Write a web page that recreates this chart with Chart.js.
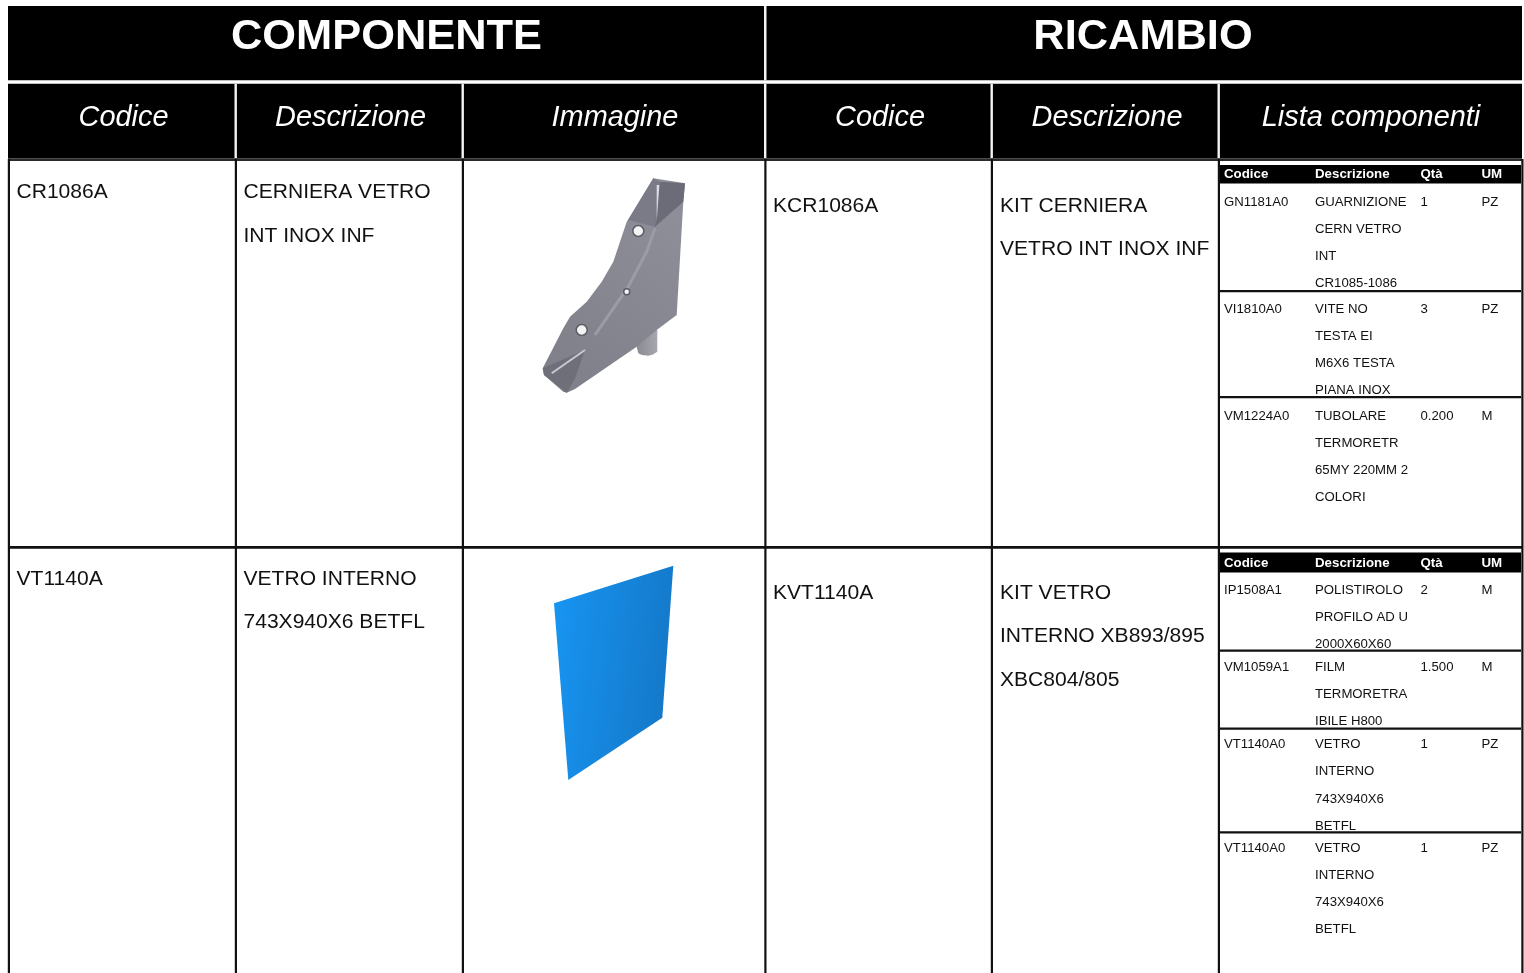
<!DOCTYPE html>
<html lang="it">
<head>
<meta charset="utf-8">
<title>Componente / Ricambio</title>
<script src="https://cdn.jsdelivr.net/npm/chart.js@4"></script>
<style>
  html, body { margin: 0; padding: 0; background: #fff; overflow: hidden; }
  canvas { display: block; }
</style>
</head>
<body>
<canvas id="tabella" width="1524" height="973"></canvas>
<script>
// Testi della tabella
const titles = ['COMPONENTE', 'RICAMBIO'];
const columns = ['Codice', 'Descrizione', 'Immagine', 'Codice', 'Descrizione', 'Lista componenti'];
const partColumns = ['Codice', 'Descrizione', 'Qtà', 'UM'];

const componentCodes = ['CR1086A', 'VT1140A'];
const componentNames = [['CERNIERA VETRO', 'INT INOX INF'], ['VETRO INTERNO', '743X940X6 BETFL']];
const spareCodes = ['KCR1086A', 'KVT1140A'];
const spareNames = [['KIT CERNIERA', 'VETRO INT INOX INF'], ['KIT VETRO', 'INTERNO XB893/895', 'XBC804/805']];

const partCodes = [['GN1181A0', 'VI1810A0', 'VM1224A0'], ['IP1508A1', 'VM1059A1', 'VT1140A0', 'VT1140A0']];
const partNames = [
  [['GUARNIZIONE', 'CERN VETRO', 'INT', 'CR1085-1086'], ['VITE NO', 'TESTA EI', 'M6X6 TESTA', 'PIANA INOX'], ['TUBOLARE', 'TERMORETR', '65MY 220MM 2', 'COLORI']],
  [['POLISTIROLO', 'PROFILO AD U', '2000X60X60'], ['FILM', 'TERMORETRA', 'IBILE H800'], ['VETRO', 'INTERNO', '743X940X6', 'BETFL'], ['VETRO', 'INTERNO', '743X940X6', 'BETFL']]
];
const partQty = [['1', '3', '0.200'], ['2', '1.500', '1', '1']];
const partUnits = [['PZ', 'PZ', 'M'], ['M', 'M', 'PZ', 'PZ']];

// Sagome delle due immagini, in unità degli assi
const hingePeg = [[637, 330], [657.3, 330], [657.3, 351.7], [653, 354.5], [648.3, 355.7], [642, 355], [638.3, 353.3], [636.7, 346.7], [637, 330]];
const hingeBody = [[653.3, 178.3], [685, 183.3], [683.3, 201.7], [676.7, 315], [656.7, 330], [636.7, 346.7], [575, 389], [566.7, 392.7], [563.3, 391.7], [544, 375], [542.7, 368.3], [563.3, 328.3], [570, 316.7], [586.7, 301.7], [601.7, 281.7], [613.3, 261.7], [621.7, 236.7], [626.7, 221.7], [653.3, 178.3]];
const hingeFaceLeft = [[653.3, 178.3], [660, 181.7], [655, 226.7], [628.3, 220], [653.3, 178.3]];
const hingeFaceRight = [[660, 181.7], [685, 183.3], [683.3, 201.7], [655, 226.7], [660, 181.7]];
const hingeStreak = [[656.7, 185], [659.3, 185], [656.7, 221.7], [656.7, 185]];
const hingeBand = [[655, 228.3], [646.7, 251.7], [628.3, 286.7], [595, 335]];
const hingeFoot = [[542.7, 368.3], [585, 350], [575, 378.3], [566.7, 392.7], [544, 375], [542.7, 368.3]];
const hingeLight = [[551.7, 373.3], [585, 350]];
const hingeHoles = [[638.3, 231], [581.7, 330], [626.7, 291.7]];
const hingeHoleSizes = [5.5, 5.5, 3];
const glass = [[554, 603.3], [673.3, 565.7], [662.3, 717.7], [568.3, 780], [554, 603.3]];

// Griglia
const colEdges = [8, 235, 462, 764.5, 991, 1218, 1521.5];
const colCenters = [123.5, 350.5, 615, 880, 1107, 1371];
const titleCenters = [386.5, 1143];
const partX = [1224, 1315, 1420.5, 1481.5];
const partHeaderBars = [[165, 183.5], [552.5, 572.5]];
const partHeaderBase = [178, 567];
const partDividers = [[291, 397], [650.5, 728.5, 832.3]];
const partRowBase = [[206, 313, 420], [594, 671, 748.3, 852]];
const cellBase = [[198.3, 585], [212, 599]];

function toPoints(list) {
  return list.map(p => ({ x: p[0], y: p[1] }));
}

function shape(list, color) {
  return { data: toPoints(list), showLine: true, fill: 'shape', backgroundColor: color, borderWidth: 0, pointRadius: 0 };
}

function stroke(list, color, width) {
  return { data: toPoints(list), showLine: true, fill: false, borderColor: color, borderWidth: width, pointRadius: 0 };
}

function box(x0, y0, x1, y1, color) {
  return shape([[x0, y0], [x1, y0], [x1, y1], [x0, y1], [x0, y0]], color);
}

// Sfumatura calcolata con le scale del grafico
function gradient(x0, y0, x1, y1, from, to) {
  return function (c) {
    if (!c.chart.chartArea) return from;
    const { x, y } = c.chart.scales;
    const g = c.chart.ctx.createLinearGradient(x.getPixelForValue(x0), y.getPixelForValue(y0), x.getPixelForValue(x1), y.getPixelForValue(y1));
    g.addColorStop(0, from);
    g.addColorStop(1, to);
    return g;
  };
}

const datasets = [];

// Intestazioni nere
datasets.push(box(8, 6, 1522, 80.3, '#000'));
datasets.push(box(8, 83.7, 1522, 158.3, '#000'));
datasets.push(box(764, 6, 766.5, 80.3, '#f4f4f4'));
colEdges.slice(1, 5).forEach(x => {
  datasets.push(box(x - 0.5, 83.7, x + 1.9, 158.3, '#f4f4f4'));
});
datasets.push(box(1217.5, 83.7, 1219.9, 158.3, '#f4f4f4'));

// Linee del corpo
datasets.push(box(8, 158.3, 1522, 161, '#2a2a2a'));
datasets.push(box(8, 546, 1523, 548.7, '#111'));
colEdges.forEach(x => {
  datasets.push(box(x - 0.2, 159, x + 2, 973, '#111'));
});

// Lista componenti
partHeaderBars.forEach(bar => {
  datasets.push(box(1220, bar[0], 1521, bar[1], '#000'));
});
partDividers.forEach(list => list.forEach(y => {
  datasets.push(box(1220, y - 1, 1521, y + 1.2, '#111'));
}));

// Cerniera
datasets.push(shape(hingePeg, gradient(637, 345, 658, 345, '#8a8a93', '#a8a8b0')));
datasets.push(shape(hingeBody, gradient(545, 380, 680, 220, '#7f7f8a', '#8e8e99')));
datasets.push(shape(hingeFaceLeft, '#7b7b87'));
datasets.push(shape(hingeFaceRight, '#6c6c78'));
datasets.push(shape(hingeStreak, '#dcdce4'));
datasets.push(shape(hingeFoot, '#6f6f7a'));
datasets.push(stroke(hingeBand, '#9c9ca7', 3));
datasets.push(stroke(hingeLight, '#c9c9d2', 2));
datasets.push({
  data: toPoints(hingeHoles), showLine: false, pointRadius: hingeHoleSizes,
  backgroundColor: '#f4f4f6', borderColor: '#5c5c66', borderWidth: 1.5
});

// Vetro con sfumatura
datasets.push(shape(glass, gradient(554, 650, 673, 665, '#1793f0', '#1478c8')));

// I testi neri stanno sotto le linee, che li tagliano come nell'originale
function put(chart, text, x, y, font, color, align) {
  const c = chart.ctx;
  c.font = font;
  c.fillStyle = color;
  c.textAlign = align || 'left';
  c.textBaseline = 'alphabetic';
  c.fillText(text, chart.scales.x.getPixelForValue(x), chart.scales.y.getPixelForValue(y));
}

const FONT = '"Liberation Sans", Arial, sans-serif';

const textPlugin = {
  id: 'testi',
  beforeDatasetsDraw(chart) {
    const big = '21.05px ' + FONT;
    const small = '13.2px ' + FONT;
    chart.ctx.save();
    componentCodes.forEach((code, r) => {
      put(chart, code, 16.5, cellBase[0][r], big, '#111');
      componentNames[r].forEach((line, i) => put(chart, line, 243.5, cellBase[0][r] + i * 43.3, big, '#111'));
      put(chart, spareCodes[r], 773, cellBase[1][r], big, '#111');
      spareNames[r].forEach((line, i) => put(chart, line, 1000, cellBase[1][r] + i * 43.3, big, '#111'));
      partCodes[r].forEach((part, p) => {
        const base = partRowBase[r][p];
        put(chart, part, partX[0], base, small, '#111');
        partNames[r][p].forEach((line, i) => put(chart, line, partX[1], base + i * 27.1, small, '#111'));
        put(chart, partQty[r][p], partX[2], base, small, '#111');
        put(chart, partUnits[r][p], partX[3], base, small, '#111');
      });
    });
    chart.ctx.restore();
  },
  afterDatasetsDraw(chart) {
    chart.ctx.save();
    titles.forEach((t, i) => put(chart, t, titleCenters[i], 49, 'bold 43.4px ' + FONT, '#fff', 'center'));
    columns.forEach((t, i) => put(chart, t, colCenters[i], 126, 'italic 28.9px ' + FONT, '#fff', 'center'));
    partHeaderBase.forEach(base => {
      partColumns.forEach((t, i) => put(chart, t, partX[i], base, 'bold 13.3px ' + FONT, '#fff'));
    });
    chart.ctx.restore();
  }
};

new Chart(document.getElementById('tabella'), {
  type: 'scatter',
  data: { datasets: datasets.reverse() },
  plugins: [textPlugin],
  options: {
    responsive: false,
    animation: false,
    events: [],
    layout: { padding: 0, autoPadding: false },
    plugins: { legend: { display: false }, tooltip: { enabled: false } },
    elements: { line: { tension: 0 } },
    scales: {
      x: { type: 'linear', min: 0, max: 1524, display: false },
      y: { type: 'linear', min: 0, max: 973, reverse: true, display: false }
    }
  }
});
</script>
</body>
</html>
